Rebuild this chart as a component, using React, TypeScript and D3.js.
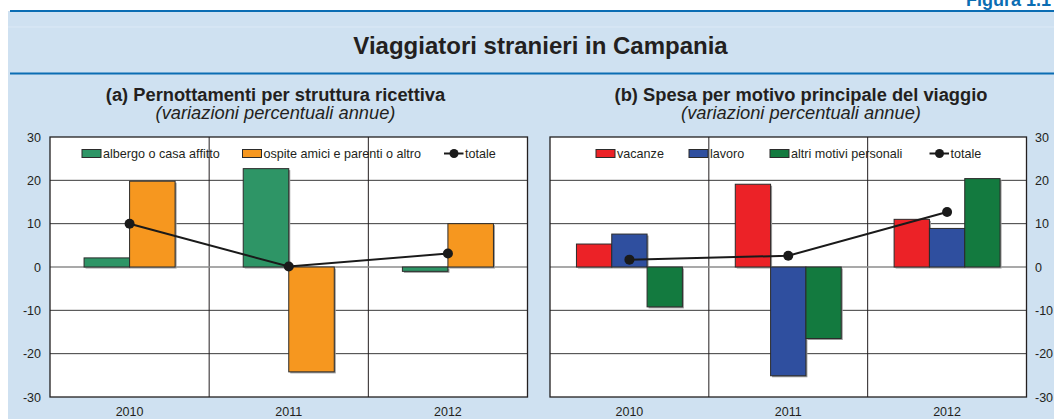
import React from "react";
import * as d3 from "d3";

const years = ["2010", "2011", "2012"];
const yTicks = [-30, -20, -10, 0, 10, 20, 30];

// Panel (a)
const seriesNamesA = ["albergo o casa affitto", "ospite amici e parenti o altro"];
const albergo = [2.1, 22.7, -1.0];
const ospite = [19.8, -24.2, 10.0];
const totaleA = [10.0, 0.1, 3.1];

// Panel (b)
const seriesNamesB = ["vacanze", "lavoro", "altri motivi personali"];
const vacanze = [5.3, 19.1, 11.0];
const lavoro = [7.6, -25.1, 8.9];
const altri = [-9.2, -16.5, 20.4];
const totaleB = [1.7, 2.6, 12.7];

const W = 1054;
const H = 419;
const FONT = "'Liberation Sans', Arial, Helvetica, sans-serif";
const TXT = "#231f20";
const BG = "#cfe1f1";
const BLUE = "#0b6db3";

type Series = { name: string; color: string; values: number[] };

function Panel(props: {
  x0: number;
  x1: number;
  series: Series[];
  totale: number[];
  groupFrac: number;
  axis: "left" | "right";
  legendX: number[];
  totaleLegendX: number;
}) {
  const { x0, x1, series, totale, groupFrac, axis, legendX, totaleLegendX } = props;
  const top = 137;
  const bottom = 397;
  const y = d3.scaleLinear().domain([-30, 30]).range([bottom, top]);
  const xb = d3.scaleBand<string>().domain(years).range([x0, x1]).padding(0);
  const bw = xb.bandwidth();
  const gw = bw * groupFrac;
  const xs = d3
    .scaleBand<string>()
    .domain(series.map((s) => s.name))
    .range([0, gw])
    .padding(0);
  const cx = (yr: string) => (xb(yr) as number) + bw / 2;
  const line = d3
    .line<number>()
    .x((_, i) => cx(years[i]))
    .y((v) => y(v));

  return (
    <g>
      <rect x={x0} y={top} width={x1 - x0} height={bottom - top} fill="#fff" />
      {yTicks
        .filter((t) => t !== 0 && t !== 30 && t !== -30)
        .map((t) => (
          <line key={t} x1={x0} x2={x1} y1={y(t)} y2={y(t)} stroke="#3a3a3a" strokeWidth={1} />
        ))}
      {years.slice(1).map((yr) => (
        <line
          key={yr}
          x1={xb(yr)}
          x2={xb(yr)}
          y1={top}
          y2={bottom}
          stroke="#231f20"
          strokeWidth={1}
        />
      ))}
      <line x1={x0} x2={x1} y1={y(0)} y2={y(0)} stroke="#8c8c8c" strokeWidth={1.5} />
      {years.map((yr, i) =>
        series.map((s) => {
          const v = s.values[i];
          const bx = cx(yr) - gw / 2 + (xs(s.name) as number);
          const by = Math.min(y(v), y(0));
          const bh = Math.abs(y(v) - y(0));
          return (
            <g key={yr + s.name}>
              <rect x={bx + 1.5} y={by + 1.5} width={xs.bandwidth()} height={bh} fill="#9a9a9a" />
              <rect
                x={bx}
                y={by}
                width={xs.bandwidth()}
                height={bh}
                fill={s.color}
                stroke="#2b2b2b"
                strokeWidth={1}
              />
            </g>
          );
        })
      )}
      <path d={line(totale) || ""} fill="none" stroke="#1a1a1a" strokeWidth={2} />
      {totale.map((v, i) => (
        <circle key={i} cx={cx(years[i])} cy={y(v)} r={5} fill="#1a1a1a" />
      ))}
      <rect
        x={x0}
        y={top}
        width={x1 - x0}
        height={bottom - top}
        fill="none"
        stroke="#231f20"
        strokeWidth={1.3}
      />
      {series.map((s, i) => (
        <g key={s.name}>
          <rect x={legendX[i]} y={149.5} width={19} height={8} fill={s.color} stroke="#2b2b2b" strokeWidth={1} />
          <text x={legendX[i] + 21} y={158} fontSize={12.6} fill={TXT} fontFamily={FONT}>
            {s.name}
          </text>
        </g>
      ))}
      <line
        x1={totaleLegendX}
        x2={totaleLegendX + 19.5}
        y1={153.5}
        y2={153.5}
        stroke="#1a1a1a"
        strokeWidth={2}
      />
      <circle cx={totaleLegendX + 10} cy={153.5} r={4.5} fill="#1a1a1a" />
      <text x={totaleLegendX + 21} y={158} fontSize={12.6} fill={TXT} fontFamily={FONT}>
        totale
      </text>
      {yTicks.map((t) =>
        axis === "left" ? (
          <text
            key={t}
            x={x0 - 9}
            y={y(t) + 4.5}
            fontSize={12.5}
            textAnchor="end"
            fill={TXT}
            fontFamily={FONT}
          >
            {t}
          </text>
        ) : (
          <text
            key={t}
            x={x1 + 8.5}
            y={y(t) + 4.5}
            fontSize={12.5}
            textAnchor="start"
            fill={TXT}
            fontFamily={FONT}
          >
            {t}
          </text>
        )
      )}
      {years.map((yr) => (
        <text
          key={yr}
          x={cx(yr)}
          y={415.5}
          fontSize={12.5}
          textAnchor="middle"
          fill={TXT}
          fontFamily={FONT}
        >
          {yr}
        </text>
      ))}
    </g>
  );
}

export default function App() {
  const sA: Series[] = [
    { name: seriesNamesA[0], color: "#2e9566", values: albergo },
    { name: seriesNamesA[1], color: "#f6971f", values: ospite },
  ];
  const sB: Series[] = [
    { name: seriesNamesB[0], color: "#ec2227", values: vacanze },
    { name: seriesNamesB[1], color: "#2f4f9f", values: lavoro },
    { name: seriesNamesB[2], color: "#137a3f", values: altri },
  ];
  return (
    <div style={{ position: "absolute", left: 0, top: 0, width: W, height: H, overflow: "hidden" }}>
      <svg width={W} height={H} style={{ display: "block" }}>
        <rect x={0} y={0} width={W} height={H} fill="#fff" />
        <rect x={8} y={11} width={W - 8} height={H - 11} fill={BG} />
        <line x1={8} x2={W} y1={27} y2={27} stroke="#dce9f6" strokeWidth={1} />
        <line x1={10} x2={W} y1={11} y2={11} stroke={BLUE} strokeWidth={2} />
        <line x1={10} x2={W} y1={73.5} y2={73.5} stroke={BLUE} strokeWidth={2} />
        <text x={966} y={5.5} fontSize={18} fontWeight="bold" fill={BLUE} fontFamily={FONT}>
          Figura 1.1
        </text>
        <text
          x={540.5}
          y={54}
          fontSize={24}
          fontWeight="bold"
          textAnchor="middle"
          fill={TXT}
          fontFamily={FONT}
        >
          Viaggiatori stranieri in Campania
        </text>
        <text
          x={275.5}
          y={101}
          fontSize={18.3}
          fontWeight="bold"
          textAnchor="middle"
          fill={TXT}
          fontFamily={FONT}
        >
          (a) Pernottamenti per struttura ricettiva
        </text>
        <text
          x={275.5}
          y={118.5}
          fontSize={18.3}
          fontStyle="italic"
          textAnchor="middle"
          fill={TXT}
          fontFamily={FONT}
        >
          (variazioni percentuali annue)
        </text>
        <text
          x={801}
          y={101}
          fontSize={18.3}
          fontWeight="bold"
          textAnchor="middle"
          fill={TXT}
          fontFamily={FONT}
        >
          (b) Spesa per motivo principale del viaggio
        </text>
        <text
          x={801}
          y={118.5}
          fontSize={18.3}
          fontStyle="italic"
          textAnchor="middle"
          fill={TXT}
          fontFamily={FONT}
        >
          (variazioni percentuali annue)
        </text>
        <Panel
          x0={50}
          x1={527.5}
          series={sA}
          totale={totaleA}
          groupFrac={0.572}
          axis="left"
          legendX={[82, 242.5]}
          totaleLegendX={444}
        />
        <Panel
          x0={550}
          x1={1026.5}
          series={sB}
          totale={totaleB}
          groupFrac={0.667}
          axis="right"
          legendX={[596, 689, 770]}
          totaleLegendX={929.5}
        />
      </svg>
    </div>
  );
}
